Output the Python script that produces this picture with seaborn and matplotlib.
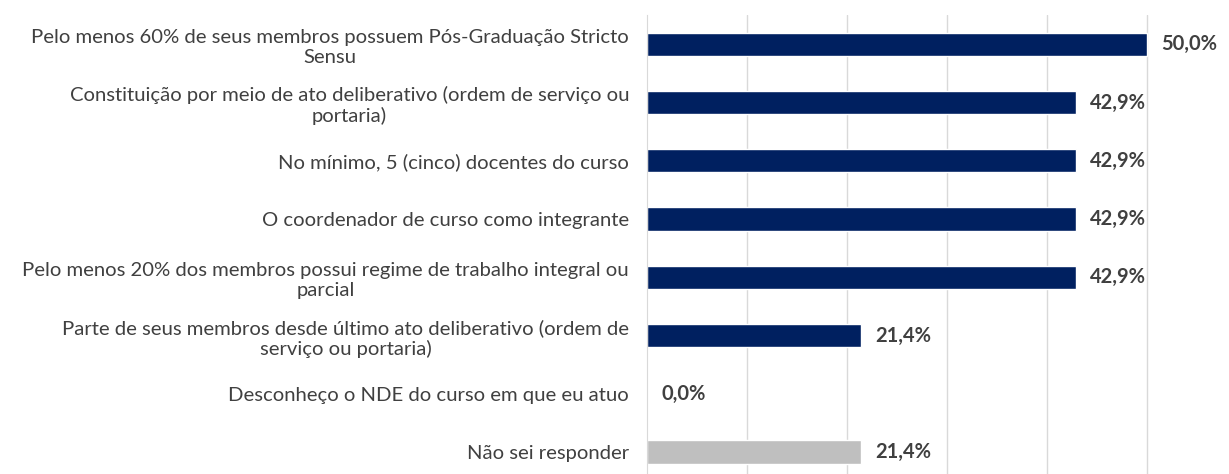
import matplotlib
matplotlib.use('Agg')
import matplotlib.pyplot as plt
import seaborn as sns
import pandas as pd

# Dados
categorias = [
    'Pelo menos 60% de seus membros possuem Pós-Graduação Stricto\nSensu',
    'Constituição por meio de ato deliberativo (ordem de serviço ou\nportaria)',
    'No mínimo, 5 (cinco) docentes do curso',
    'O coordenador de curso como integrante',
    'Pelo menos 20% dos membros possui regime de trabalho integral ou\nparcial',
    'Parte de seus membros desde último ato deliberativo (ordem de\nserviço ou portaria)',
    'Desconheço o NDE do curso em que eu atuo',
    'Não sei responder',
]
valores = [50.0, 42.9, 42.9, 42.9, 42.9, 21.4, 0.0, 21.4]
cores = ['#002060'] * 7 + ['#BFBFBF']

df = pd.DataFrame({'categoria': categorias, 'valor': valores})

sns.set_style('white')
plt.rcParams['font.family'] = ['Lato', 'DejaVu Sans']

fig = plt.figure(figsize=(12.29, 4.74), dpi=100)
ax = fig.add_axes([0.5265, -0.015, 0.4735, 0.983])

sns.barplot(data=df, x='valor', y='categoria', hue='categoria', palette=cores,
            legend=False, width=0.4, ax=ax, saturation=1)

ax.set_xlim(0, 58.2)
ax.set_xticks([10, 20, 30, 40, 50])
ax.xaxis.grid(True, color='#D9D9D9', linewidth=1)
ax.set_axisbelow(True)
ax.set_xticklabels([])
ax.tick_params(axis='x', length=0)
ax.set_yticks(range(len(categorias)))
ax.set_yticklabels(categorias, fontsize=14.6, color='#404040')
ax.tick_params(axis='y', length=0, pad=13)
ax.set_xlabel('')
ax.set_ylabel('')
for s in ['top', 'right', 'bottom']:
    ax.spines[s].set_visible(False)
ax.spines['left'].set_color('#D9D9D9')

# Rótulos de dados
for i, v in enumerate(valores):
    ax.text(v + 1.4, i, f'{v:.1f}%'.replace('.', ','), va='center', ha='left',
            fontsize=14.5, fontweight='bold', color='#404040')

# centraliza as linhas dos rótulos (precisa dos ticks já criados)
fig.canvas.draw()
for lbl in ax.get_yticklabels():
    lbl.set_multialignment('center')

fig.savefig('out.png', dpi=100)
